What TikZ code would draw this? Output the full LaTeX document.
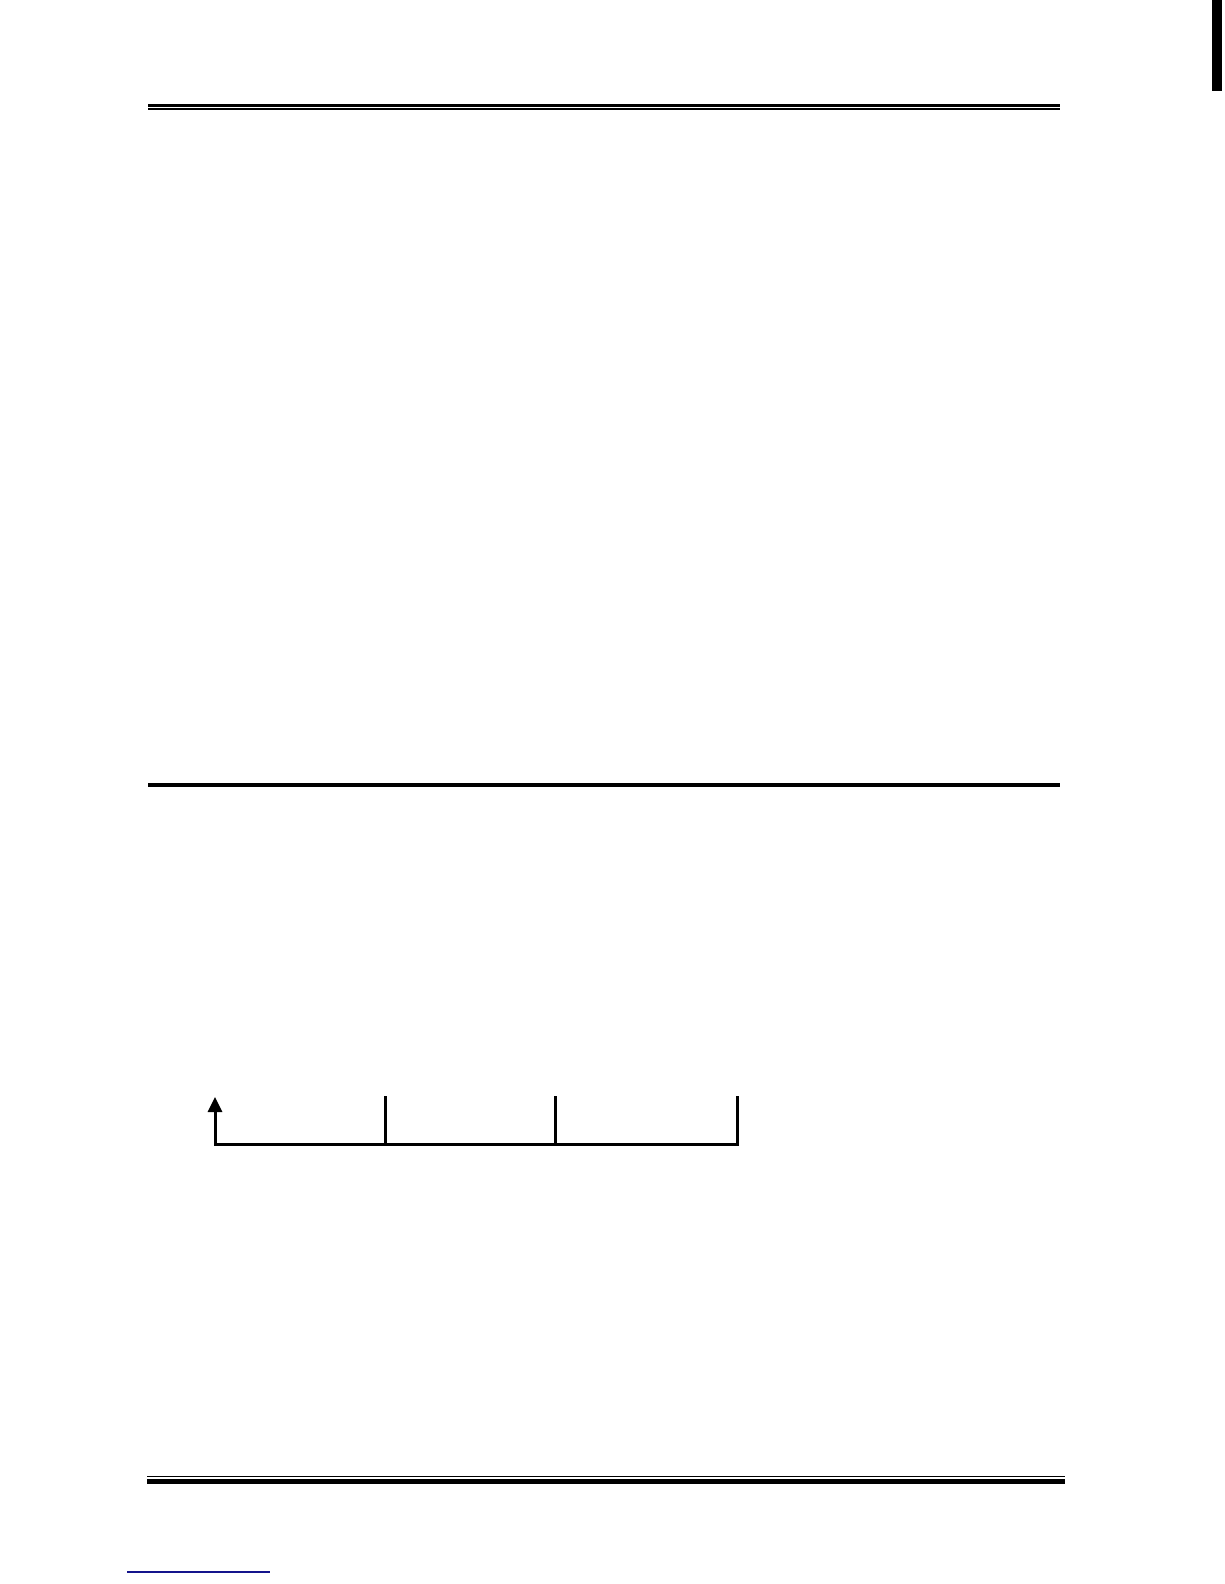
\documentclass[tikz,border=0pt]{standalone}
\usetikzlibrary{arrows.meta}
\definecolor{linkblue}{RGB}{20,20,140}
\begin{document}
\begin{tikzpicture}[x=0.02cm,y=-0.02cm]

\useasboundingbox (0,0) rectangle (1224,1584);

% page rules
\fill (148,104) rectangle (1060,107);
\fill (148,108.5) rectangle (1060,110);
\fill (148,783) rectangle (1060,787);
\fill (147,1475.5) rectangle (1065,1477);
\fill (147,1479) rectangle (1065,1484);
\fill (1212,0) rectangle (1222,91);

\draw[linkblue,line width=0.03cm] (127,1572) -- (270,1572);

% time axis
\coordinate (o) at (215,1144);
\coordinate (e) at (737,1144);
\draw[line width=0.06cm,line cap=rect] (o) -- (e);
\draw[line width=0.06cm,-{Triangle[length=0.3cm,width=0.28cm]}] (o) -- (215,1097);

\foreach \x in {385,555,737} {
  \draw[line width=0.06cm] (\x,1096) -- (\x,1144);
}

\end{tikzpicture}
\end{document}
